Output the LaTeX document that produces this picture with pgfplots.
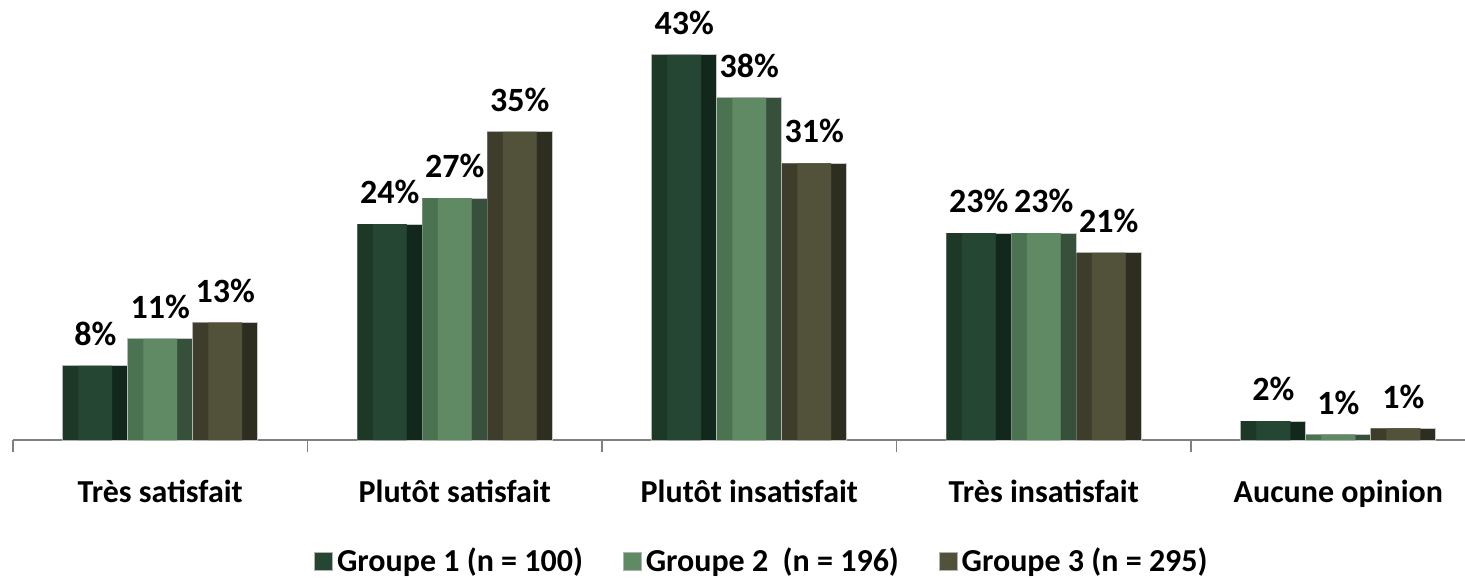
\documentclass[border=0pt]{standalone}
\usepackage{fontspec}
\setmainfont{Carlito}
\usepackage{pgfplots}
\usepackage{pgfplotstable}
\pgfplotsset{compat=1.18}
% face / left bevel / right bevel colours
\definecolor{gAf}{RGB}{38,70,52}\definecolor{gAl}{RGB}{30,56,40}\definecolor{gAr}{RGB}{18,40,28}
\definecolor{gBf}{RGB}{95,138,100}\definecolor{gBl}{RGB}{75,115,82}\definecolor{gBr}{RGB}{55,80,60}
\definecolor{gCf}{RGB}{82,82,58}\definecolor{gCl}{RGB}{62,60,42}\definecolor{gCr}{RGB}{45,45,32}
\pgfplotstableread{
x y lab
0 8.27 8
1 24.1 24
2 43.0 43
3 23.1 23
4 2.1 2
}\groupA
\pgfplotstableread{
x y lab
0 11.3 11
1 27.0 27
2 38.2 38
3 23.1 23
4 0.6 1
}\groupB
\pgfplotstableread{
x y lab
0 13.1 13
1 34.4 35
2 30.9 31
3 20.9 21
4 1.3 1
}\groupC
\pgfplotsset{
  barOut/.style 2 args={ybar, bar width=0.2207, bar shift=#1, fill=#2, draw=gray!45, line width=0.5pt, forget plot},
  barLeft/.style 2 args={ybar, bar width=0.1677, bar shift=#1-0.0265, fill=#2, draw=none, forget plot},
  barFace/.style 2 args={ybar, bar width=0.1147, bar shift=#1, fill=#2, draw=none,
    nodes near coords={\pgfplotspointmeta\%}, point meta=explicit symbolic,
    every node near coord/.append style={font=\bfseries\fontsize{17}{20}\selectfont, yshift=6.5pt, xshift={#1*147.2pt}, black},
    legend image code/.code={\draw[fill=#2, draw=gray!60] (0pt,-4.5pt) rectangle (9pt,4.5pt);}},
}
\begin{document}
\begin{tikzpicture}
\useasboundingbox (-6.5pt,-69pt) rectangle (726pt,220pt);
\begin{axis}[
  scale only axis, width=726pt, height=220pt,
  xmin=-0.5, xmax=4.430, ymin=0, ymax=49.14,
  axis y line=none, axis x line*=bottom,
  axis line style={draw=gray, line width=0.9pt},
  xtick={-0.5,0.5,1.5,2.5,3.5}, xticklabels={},
  major tick length=6pt, tick align=outside,
  tick style={draw=gray, line width=0.9pt},
  extra x ticks={0,1,2,3,4},
  extra x tick labels={Très satisfait, Plutôt satisfait, Plutôt insatisfait, Très insatisfait, Aucune opinion},
  extra x tick style={major tick length=0pt, tick style={draw=none}},
  xticklabel style={font=\bfseries\fontsize{16}{19}\selectfont, yshift=-16.5pt},
  legend style={at={(0.5165,-0.276)}, anchor=center, draw=none, fill=none, legend columns=3,
    font=\bfseries\fontsize{16}{19}\selectfont,
    /tikz/every even column/.append style={column sep=18pt}},
  clip=false,
]
\addplot[barOut={-0.2207}{gAr}] table[x=x,y=y] {\groupA};
\addplot[barLeft={-0.2207}{gAl}] table[x=x,y=y] {\groupA};
\addplot[barFace={-0.2207}{gAf}] table[x=x,y=y,meta=lab] {\groupA};
\addplot[barOut={0}{gBr}] table[x=x,y=y] {\groupB};
\addplot[barLeft={0}{gBl}] table[x=x,y=y] {\groupB};
\addplot[barFace={0}{gBf}] table[x=x,y=y,meta=lab] {\groupB};
\addplot[barOut={0.2207}{gCr}] table[x=x,y=y] {\groupC};
\addplot[barLeft={0.2207}{gCl}] table[x=x,y=y] {\groupC};
\addplot[barFace={0.2207}{gCf}] table[x=x,y=y,meta=lab] {\groupC};
\legend{Groupe 1 (n = 100), Groupe 2\ \ (n = 196), Groupe 3 (n = 295)}
\end{axis}
\end{tikzpicture}
\end{document}
